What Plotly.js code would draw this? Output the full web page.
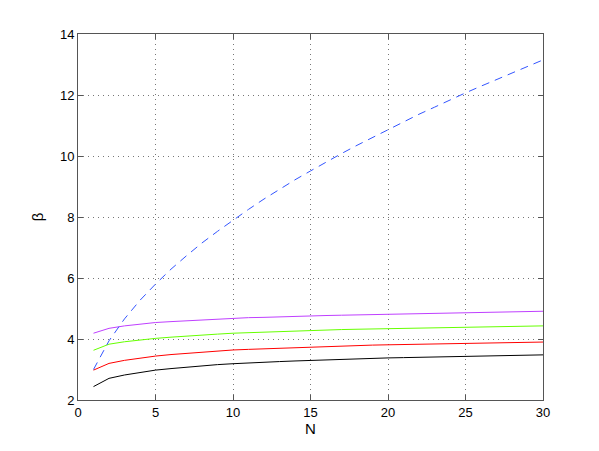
<!DOCTYPE html>
<html>
<head>
<meta charset="utf-8">
<script src="https://cdn.plot.ly/plotly-3.0.1.min.js"></script>
<style>html,body{margin:0;padding:0;background:#fff;}#chart{width:599px;height:451px;}</style>
</head>
<body>
<div id="chart"></div>
<script>
const N = [1,2,3,4,5,6,7,8,9,10,11,12,13,14,15,16,17,18,19,20,21,22,23,24,25,26,27,28,29,30];
const betaBlue = [3.00,3.94,4.66,5.27,5.80,6.29,6.73,7.15,7.53,7.90,8.25,8.59,8.91,9.22,9.51,9.80,10.08,10.35,10.61,10.87,11.12,11.37,11.60,11.84,12.07,12.29,12.51,12.73,12.94,13.15];
const betaPurple = [4.19,4.35,4.43,4.49,4.54,4.57,4.60,4.63,4.66,4.68,4.70,4.71,4.73,4.75,4.76,4.77,4.78,4.79,4.81,4.82,4.83,4.84,4.85,4.86,4.86,4.87,4.88,4.89,4.90,4.91];
const betaGreen = [3.63,3.83,3.91,3.97,4.02,4.06,4.10,4.13,4.16,4.19,4.21,4.23,4.25,4.26,4.28,4.29,4.31,4.32,4.33,4.34,4.35,4.36,4.37,4.38,4.39,4.40,4.41,4.41,4.42,4.43];
const betaRed = [2.98,3.20,3.30,3.38,3.44,3.49,3.53,3.57,3.61,3.64,3.66,3.68,3.70,3.72,3.74,3.76,3.77,3.79,3.80,3.81,3.82,3.83,3.84,3.85,3.86,3.87,3.88,3.89,3.89,3.90];
const betaBlack = [2.44,2.71,2.82,2.91,2.98,3.03,3.08,3.12,3.16,3.19,3.22,3.24,3.26,3.28,3.30,3.32,3.33,3.35,3.36,3.38,3.39,3.40,3.41,3.42,3.43,3.44,3.45,3.46,3.47,3.48];
const xTicks = [0,5,10,15,20,25,30];
const yTicks = [2,4,6,8,10,12,14];

function line(y, color, dash) {
  return {x: N, y: y, type: 'scatter', mode: 'lines', line: {color: color, width: 1, dash: dash || 'solid'}, hoverinfo: 'none'};
}
const traces = [
  line(betaBlack, '#000000'),
  line(betaRed, '#ff0000'),
  line(betaGreen, '#66ff00'),
  line(betaPurple, '#bf40ff'),
  line(betaBlue, '#3355ff', '8px,6px')
];
const axisCommon = {
  showline: true, linecolor: '#555', linewidth: 1, mirror: 'ticks',
  ticks: 'inside', ticklen: 5, tickcolor: '#555',
  showgrid: true, gridcolor: '#777', griddash: '1px,4px', gridwidth: 1,
  zeroline: false, tickfont: {family: 'Liberation Sans, Arial, sans-serif', size: 13, color: '#000'}
};
const layout = {
  width: 599, height: 451,
  margin: {l: 78, r: 56, t: 34, b: 51},
  paper_bgcolor: '#fff', plot_bgcolor: '#fff',
  showlegend: false,
  xaxis: Object.assign({}, axisCommon, {range: [0,30], tickvals: xTicks, ticktext: xTicks.map(String),
    title: {text: 'N', font: {family: 'Liberation Sans, Arial, sans-serif', size: 15, color: '#000'}, standoff: 2}}),
  yaxis: Object.assign({}, axisCommon, {range: [2,14], tickvals: yTicks, ticktext: yTicks.map(String),
    title: {text: 'β', font: {family: 'Liberation Sans, Arial, sans-serif', size: 15, color: '#000'}, standoff: 12}})
};
Plotly.newPlot('chart', traces, layout, {staticPlot: true, displayModeBar: false});
</script>
</body>
</html>
